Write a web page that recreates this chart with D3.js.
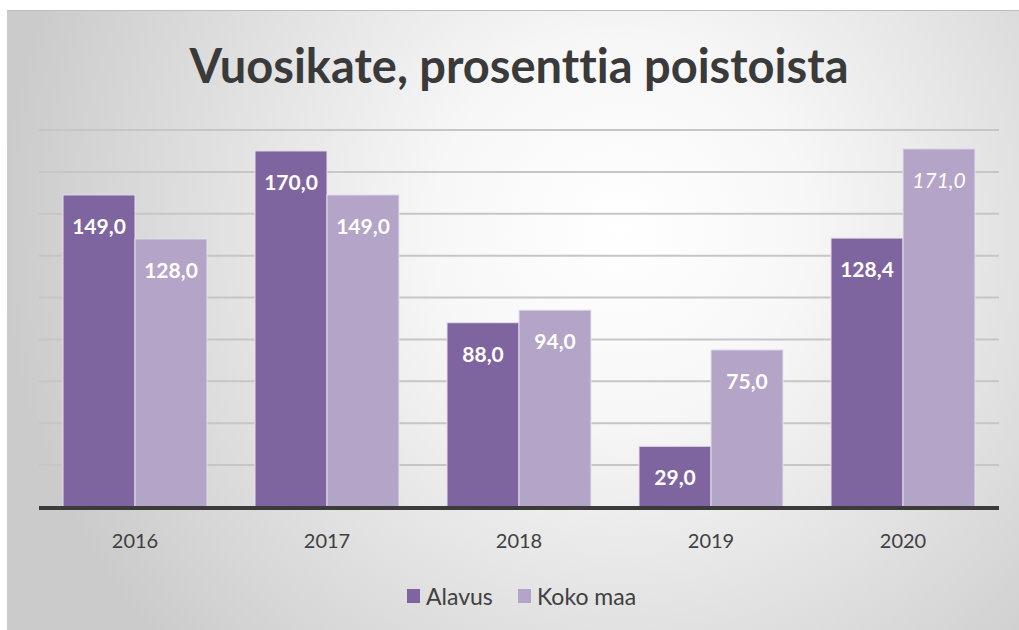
<!DOCTYPE html>
<html>
<head>
<meta charset="utf-8">
<script src="https://cdn.jsdelivr.net/npm/d3@7"></script>
<style>
    body { margin: 0; background: #fff; }
    svg text { font-family: Lato, "Open Sans", sans-serif; font-variant-ligatures: none; }
</style>
</head>
<body>
<svg class="chart" width="1019" height="630"></svg>
<script>
var years = ["2016", "2017", "2018", "2019", "2020"];
var seriesNames = ["Alavus", "Koko maa"];
var alavus = [149.0, 170.0, 88.0, 29.0, 128.4];
var kokoMaa = [128.0, 149.0, 94.0, 75.0, 171.0];
var gridTicks = [20, 40, 60, 80, 100, 120, 140, 160, 180];

var colors = ["#7f659f", "#b3a4c8"];

function drawChart() {
    var svg = d3.select("svg.chart");
    var margin = { left: 39, right: 20, top: 130, bottom: 123 };
    var width = 1019, height = 630;
    var plotW = width - margin.left - margin.right;
    var plotH = height - margin.top - margin.bottom;

    // background panel with soft radial shading
    var defs = svg.append("defs");
    var grad = defs.append("radialGradient")
        .attr("id", "bg-grad")
        .attr("gradientUnits", "userSpaceOnUse")
        .attr("cx", 620).attr("cy", 230).attr("r", 620);
    grad.append("stop").attr("offset", "0%").attr("stop-color", "#ffffff");
    grad.append("stop").attr("offset", "30%").attr("stop-color", "#f7f7f7");
    grad.append("stop").attr("offset", "100%").attr("stop-color", "#cbcbcb");

    svg.append("rect")
        .attr("x", 7).attr("y", 10)
        .attr("width", width - 7).attr("height", height - 10)
        .attr("fill", "url(#bg-grad)");
    svg.append("line")
        .attr("x1", 7).attr("x2", width)
        .attr("y1", 10.5).attr("y2", 10.5)
        .attr("stroke", "#bdbdbd").attr("stroke-width", 1);

    svg.append("text")
        .attr("x", 519).attr("y", 83)
        .attr("text-anchor", "middle")
        .attr("font-size", 47)
        .attr("font-weight", "bold")
        .attr("fill", "#3a3a3a")
        .text("Vuosikate, prosenttia poistoista");

    var g = svg.append("g")
        .attr("transform", "translate(" + margin.left + "," + margin.top + ")");

    var x0 = d3.scaleBand()
        .domain(years)
        .range([0, plotW])
        .paddingInner(0.25)
        .paddingOuter(0.125);
    var x1 = d3.scaleBand()
        .domain(seriesNames)
        .range([0, x0.bandwidth()]);
    var y = d3.scaleLinear()
        .domain([0, 180])
        .range([plotH, 0]);

    // gridlines
    g.append("g")
        .selectAll("line")
        .data(gridTicks)
        .enter()
        .append("line")
        .attr("x1", 0).attr("x2", plotW)
        .attr("y1", function (d) { return y(d); })
        .attr("y2", function (d) { return y(d); })
        .attr("stroke", "#c6c6c6")
        .attr("stroke-width", 2);

    var rows = years.map(function (yr, i) {
        return { year: yr, values: [alavus[i], kokoMaa[i]] };
    });

    var groups = g.selectAll("g.year")
        .data(rows)
        .enter()
        .append("g")
        .classed("year", true)
        .attr("transform", function (d) { return "translate(" + x0(d.year) + ",0)"; });

    groups.selectAll("rect")
        .data(function (d) {
            return d.values.map(function (v, k) { return { series: seriesNames[k], value: v, k: k }; });
        })
        .enter()
        .append("rect")
        .attr("x", function (d) { return x1(d.series); })
        .attr("width", x1.bandwidth())
        .attr("y", function (d) { return y(d.value); })
        .attr("height", function (d) { return plotH - y(d.value); })
        .attr("fill", function (d) { return colors[d.k]; })
        .attr("stroke", "#e6e0ee")
        .attr("stroke-width", 1);

    groups.selectAll("text.value")
        .data(function (d) {
            return d.values.map(function (v, k) { return { series: seriesNames[k], value: v, k: k, year: d.year }; });
        })
        .enter()
        .append("text")
        .classed("value", true)
        .attr("x", function (d) { return x1(d.series) + x1.bandwidth() / 2; })
        .attr("y", function (d) { return y(d.value) + 39; })
        .attr("text-anchor", "middle")
        .attr("font-size", 21)
        .attr("font-weight", function (d) { return d.year === "2020" && d.k === 1 ? "normal" : "bold"; })
        .attr("font-style", function (d) { return d.year === "2020" && d.k === 1 ? "italic" : "normal"; })
        .attr("fill", "#ffffff")
        .text(function (d) { return d3.format(".1f")(d.value).replace(".", ","); });

    // baseline
    g.append("line")
        .attr("x1", 0).attr("x2", plotW)
        .attr("y1", plotH + 1).attr("y2", plotH + 1)
        .attr("stroke", "#3b3b3b")
        .attr("stroke-width", 4);

    // category labels
    g.append("g")
        .selectAll("text")
        .data(years)
        .enter()
        .append("text")
        .attr("x", function (d) { return x0(d) + x0.bandwidth() / 2; })
        .attr("y", plotH + 41)
        .attr("text-anchor", "middle")
        .attr("font-size", 20)
        .attr("fill", "#404040")
        .text(function (d) { return d; });

    // legend
    var legendX = [407, 518];
    var legend = svg.append("g");
    seriesNames.forEach(function (name, k) {
        legend.append("rect")
            .attr("x", legendX[k]).attr("y", 589)
            .attr("width", 13).attr("height", 14)
            .attr("fill", colors[k]);
        legend.append("text")
            .attr("x", legendX[k] + 19).attr("y", 605)
            .attr("font-size", 23)
            .attr("fill", "#404040")
            .text(name);
    });
}

drawChart();
</script>
</body>
</html>
